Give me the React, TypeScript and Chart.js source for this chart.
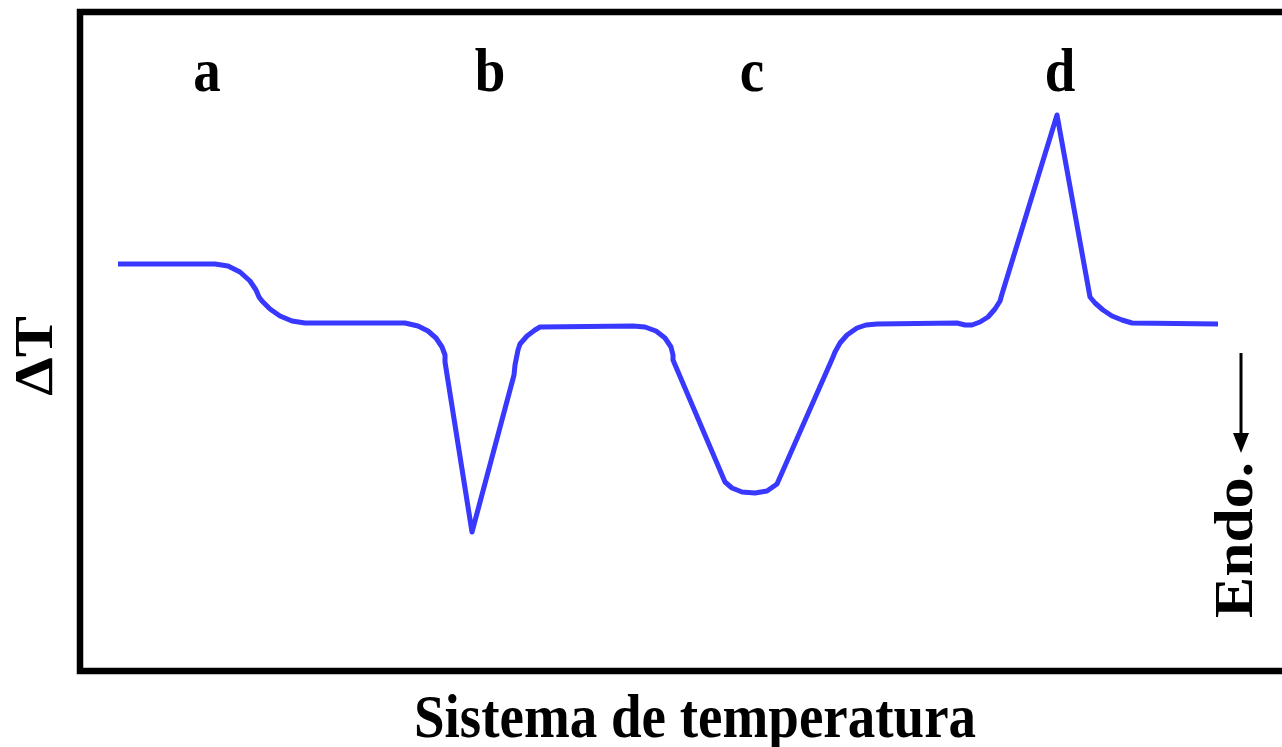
import React, { useEffect, useRef } from "react";
import { Chart, registerables } from "chart.js";

Chart.register(...registerables);

// DTA trace: temperature (arbitrary units) vs ΔT (arbitrary units)
const temperature = [
  38, 135, 148, 160, 170, 176, 179, 182, 190, 200, 212, 225, 325,
  338, 348, 356, 362, 365, 365, 392, 434, 435, 438, 440, 447, 455, 460, 553,
  565, 576, 585, 591, 593, 593, 645, 652, 662, 675, 687, 697, 753, 755, 760, 767, 777, 786, 797,
  877, 885, 892, 900, 908, 915, 920, 922, 977, 1010, 1015, 1023, 1032, 1042, 1052, 1138,
];
const deltaT = [
  407, 407, 405, 399, 390, 381, 374, 370, 362, 355, 350, 348, 348,
  345, 340, 333, 324, 316, 309, 139, 296, 306, 321, 327, 335, 341, 344, 345,
  344, 340, 333, 324, 316, 311, 189, 183, 179, 178, 180, 187, 314, 319, 328, 336, 343, 346, 347,
  348, 346, 346, 349, 354, 362, 370, 377, 556, 374, 368, 361, 355, 351, 348, 347,
];

// Event letters and where they sit along the temperature axis
const eventLabels = ["a", "b", "c", "d"];
const eventTemps = [127, 410, 672, 980];

const xTitle = "Sistema de temperatura";
const yTitle = "ΔT";
const endoLabel = "Endo.";

const FONT = '"Liberation Serif", "Times New Roman", serif';
const STRETCH = 1.12;

function drawText(
  ctx: CanvasRenderingContext2D,
  text: string,
  x: number,
  y: number,
  rotate: boolean
) {
  ctx.save();
  ctx.translate(x, y);
  ctx.scale(1, STRETCH);
  if (rotate) ctx.rotate(-Math.PI / 2);
  ctx.fillText(text, 0, 0);
  ctx.restore();
}

const decorations = {
  id: "dtaDecorations",
  beforeDatasetsDraw(chart: any) {
    const { ctx, chartArea } = chart;
    const { left, top, right, bottom } = chartArea;
    ctx.save();
    ctx.strokeStyle = "#000";
    ctx.lineWidth = 6.5;
    ctx.lineCap = "butt";
    ctx.beginPath();
    ctx.moveTo(right + 10, top);
    ctx.lineTo(left, top);
    ctx.lineTo(left, bottom);
    ctx.lineTo(right + 10, bottom);
    ctx.stroke();
    ctx.restore();
  },
  afterDraw(chart: any) {
    const { ctx, chartArea, scales } = chart;
    const xScale = scales.x;
    ctx.save();
    ctx.fillStyle = "#000";
    ctx.font = `bold 55px ${FONT}`;
    ctx.textAlign = "center";
    ctx.textBaseline = "alphabetic";

    eventLabels.forEach((lbl, i) => {
      drawText(ctx, lbl, xScale.getPixelForValue(eventTemps[i]), 91, false);
    });

    // axis titles
    drawText(ctx, xTitle, 695, 737, false);
    drawText(ctx, yTitle, 52, 356, true);

    // endothermic direction marker
    drawText(ctx, endoLabel, 1252, 540, true);
    const ax = 1241;
    ctx.strokeStyle = "#000";
    ctx.lineWidth = 3;
    ctx.beginPath();
    ctx.moveTo(ax, 353);
    ctx.lineTo(ax, 438);
    ctx.stroke();
    ctx.beginPath();
    ctx.moveTo(ax - 8, 433);
    ctx.lineTo(ax + 8, 433);
    ctx.lineTo(ax, 453);
    ctx.closePath();
    ctx.fill();
    ctx.restore();
  },
};

export default function App() {
  const canvasRef = useRef<HTMLCanvasElement | null>(null);

  useEffect(() => {
    if (!canvasRef.current) return;
    const chart = new Chart(canvasRef.current, {
      type: "line",
      data: {
        datasets: [
          {
            data: temperature.map((t, i) => ({ x: t, y: deltaT[i] })),
            borderColor: "#3838ff",
            borderWidth: 5,
            pointRadius: 0,
            tension: 0,
            fill: false,
            borderJoinStyle: "round",
          },
        ],
      },
      options: {
        animation: false,
        responsive: true,
        maintainAspectRatio: false,
        layout: { padding: { left: 80, top: 12, right: 0, bottom: 76 } },
        plugins: {
          legend: { display: false },
          tooltip: { enabled: false },
        },
        scales: {
          x: { type: "linear", min: 0, max: 1202, display: false },
          y: { type: "linear", min: 0, max: 659, display: false },
        },
      },
      plugins: [decorations],
    });
    return () => chart.destroy();
  }, []);

  return (
    <div
      style={{
        position: "fixed",
        left: 0,
        top: 0,
        width: 1282,
        height: 747,
        background: "#fff",
      }}
    >
      <canvas ref={canvasRef} />
    </div>
  );
}
